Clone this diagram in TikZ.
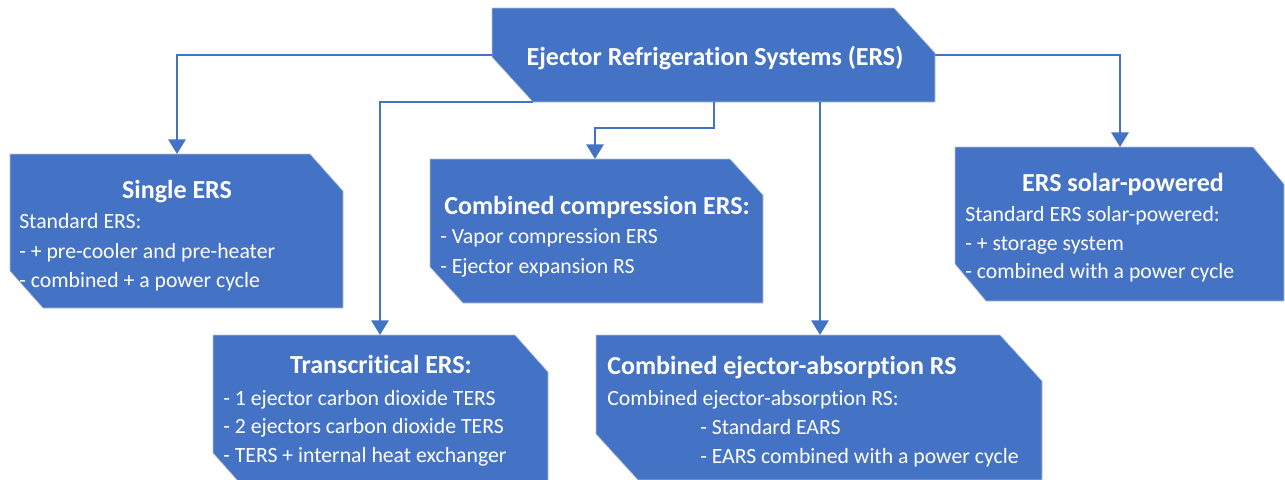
\documentclass[tikz,border=0pt]{standalone}
\usepackage{fontspec}
\setmainfont{Carlito}[Ligatures=NoCommon]
\usetikzlibrary{arrows.meta}
\definecolor{ersblue}{HTML}{4472C4}
\definecolor{ersedge}{HTML}{B4C0D8}

\begin{document}
\begin{tikzpicture}[x=0.75pt,y=-0.75pt,
	link/.style={draw=ersblue,line width=1.6pt,-{Triangle[width=13pt,length=11pt]}},
	head/.style={text=white,inner sep=0,anchor=base,font=\fontsize{19.5}{23}\selectfont\bfseries},
	line/.style={text=white,inner sep=0,anchor=base west,font=\fontsize{16.3}{20}\selectfont}]
	\clip (0,0) rectangle (1285,479);

	\def\boxes {top/492/8/935/102/41/45, single/10/154/343/308/33/37, comp/430/159/763/303/33/36,
		solar/955/147/1284/301/31/37, trans/213/335/548/490/33/37, absorp/596/335/1042/480/42/46}  % left/top/right/bottom/cut
	\foreach \n/\l/\t/\r/\b/\cx/\cy in \boxes
	{	\fill[ersblue, draw=ersedge, line width=0.5pt] (\l,\t) -- (\r-\cx,\t) -- (\r,\t+\cy) -- (\r,\b)
			-- (\l+\cx,\b) -- (\l,\b-\cy) -- cycle;
	}

	\coordinate (top-w)    at (492,55);
	\coordinate (top-e)    at (935,55);
	\coordinate (top-s1)   at (533,102);
	\coordinate (top-s2)   at (714,102);
	\coordinate (top-s3)   at (820,102);
	\coordinate (single-n) at (177,154);
	\coordinate (comp-n)   at (595,159);
	\coordinate (solar-n)  at (1120,147);
	\coordinate (trans-n)  at (380,335);
	\coordinate (absorp-n) at (820,335);

	\draw[link] (top-w) -| (single-n);
	\draw[link] (top-e) -| (solar-n);
	\draw[link] (top-s1) -| (trans-n);
	\draw[link] (top-s2) -- ++(0,26) -| (comp-n);
	\draw[link] (top-s3) -- (absorp-n);

	\node[head] (top-title)    at (715,65)  {Ejector Refrigeration Systems (ERS)};
	\node[head] (single-title) at (177,198) {Single ERS};
	\node[head, anchor=base west] (comp-title) at (444,214) {Combined compression ERS:};
	\node[head] (solar-title)  at (1123,191) {ERS solar-powered};
	\node[head] (trans-title)  at (381,373) {Transcritical ERS:};
	\node[head, anchor=base west] (absorp-title) at (607,374) {Combined ejector-absorption RS};

	\def\lines {single-l1/19/228/Standard ERS:, single-l2/19/258/- + pre-cooler and pre-heater,
		single-l3/19/287/- combined + a power cycle,
		comp-l1/440/243/- Vapor compression ERS, comp-l2/440/273/- Ejector expansion RS,
		solar-l1/965/221/Standard ERS solar-powered:, solar-l2/965/250/- + storage system,
		solar-l3/965/278/- combined with a power cycle,
		trans-l1/223/405/- 1 ejector carbon dioxide TERS, trans-l2/223/433/- 2 ejectors carbon dioxide TERS,
		trans-l3/223/462/- TERS + internal heat exchanger,
		absorp-l1/607/405/Combined ejector-absorption RS:, absorp-l2/700/434/- Standard EARS,
		absorp-l3/700/463/- EARS combined with a power cycle}
	\foreach \n/\x/\y/\txt in \lines
	{	\node[line] (\n) at (\x,\y) {\txt};
	}
\end{tikzpicture}
\end{document}
